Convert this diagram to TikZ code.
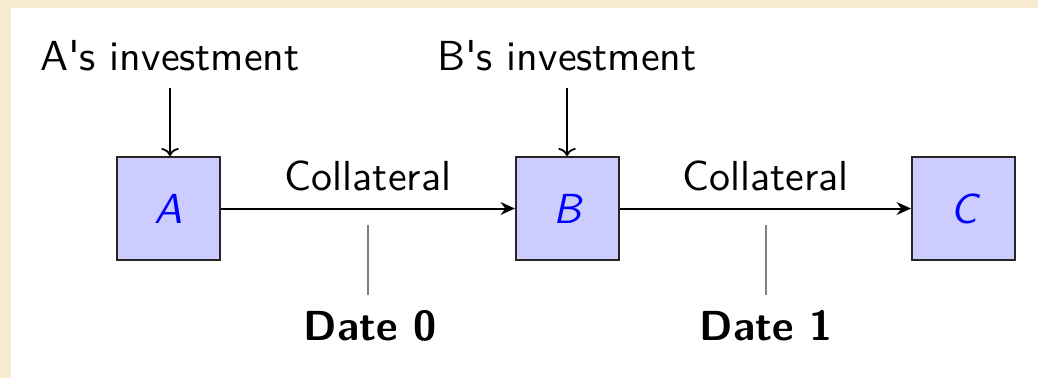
\documentclass[tikz,border=0pt]{standalone}
\usetikzlibrary{arrows.meta}
\definecolor{beige}{RGB}{247,234,206}
\definecolor{boxfill}{RGB}{204,204,255}
\begin{document}
\begin{tikzpicture}[x=0.25pt,y=0.25pt,
  every node/.style={font=\fontsize{10.5}{12}\sffamily\selectfont},
  agent/.style={draw=black!85, line width=0.5pt, fill=boxfill, minimum size=25.75pt, inner sep=0pt, text=blue, font=\fontsize{10.5}{12}\sffamily\itshape\selectfont},
  lbl/.style={anchor=base, inner sep=0pt},
  datelbl/.style={anchor=base, inner sep=0pt, font=\fontsize{10.5}{12}\sffamily\bfseries\selectfont},
  flow/.style={line width=0.5pt, -{Stealth[length=3.6pt,width=3.2pt]}},
  invest/.style={line width=0.45pt, -{To[length=2pt,width=4.4pt]}},
  tick/.style={line width=0.4pt, draw=black!50}]
\useasboundingbox (0,0) rectangle (1038,-378);
\fill[beige] (0,0) rectangle (1038,-378);
\fill[white] (11,-8) rectangle (1038,-378);

\node[agent] (A) at (168.5,-208.5) {A};
\node[agent] (B) at (567.5,-208.5) {B};
\node[agent] (C) at (963.5,-208.5) {C};

\node[lbl] (ainv) at (170,-70) {A\textquotesingle s investment};
\node[lbl] (binv) at (567,-70) {B\textquotesingle s investment};
\coordinate (ainvend) at (170,-88);
\coordinate (binvend) at (567,-88);
\draw[invest] (ainvend) -- (ainvend |- A.north);
\draw[invest] (binvend) -- (binvend |- B.north);

\draw[flow] (A.east) -- node[midway, anchor=base, inner sep=0pt, yshift=4.5pt] (col1) {Collateral} (B.west);
\draw[flow] (B.east) -- node[midway, anchor=base, inner sep=0pt, yshift=4.5pt] (col2) {Collateral} (C.west);

\node[datelbl] (d0) at (370,-340) {Date 0};
\node[datelbl] (d1) at (766,-340) {Date 1};
\coordinate (t0top) at (368,-225);
\coordinate (t0bot) at (368,-295);
\coordinate (t1top) at (766,-225);
\coordinate (t1bot) at (766,-295);
\draw[tick] (t0top) -- (t0bot);
\draw[tick] (t1top) -- (t1bot);
\end{tikzpicture}
\end{document}
